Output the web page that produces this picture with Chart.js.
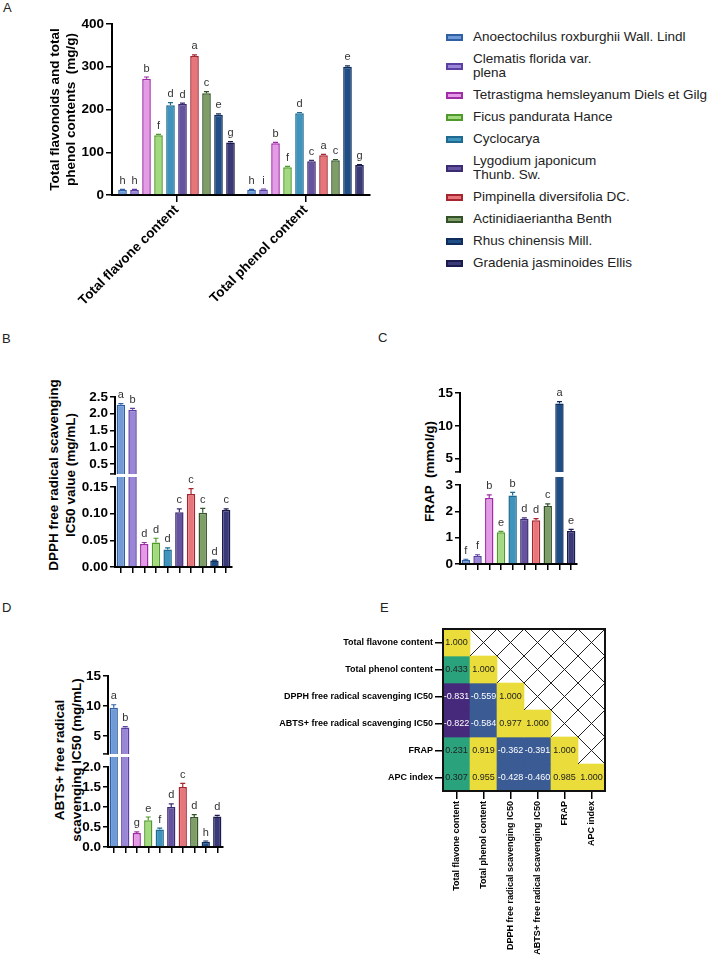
<!DOCTYPE html>
<html>
<head>
<meta charset="utf-8">
<script src="https://cdn.jsdelivr.net/npm/chart.js@4.4.1/dist/chart.umd.min.js"></script>
<style>
  body { margin: 0; background: #fff; width: 709px; height: 959px; position: relative; overflow: hidden;
         font-family: "Liberation Sans", Arial, Helvetica, sans-serif; }
  .lab { position: absolute; font-size: 13px; color: #222; }
  .ytitle { position: absolute; font-weight: bold; font-size: 13.5px; line-height: 17px; text-align: center;
            white-space: pre; transform: rotate(-90deg); color: #000; }
  #legend { position: absolute; left: 446px; top: 30px; font-size: 13.5px; color: #222; }
  #legend .item { display: flex; align-items: center; margin-bottom: 8px; }
  #legend .box { width: 13px; height: 3px; border: 2px solid; margin-right: 10px; flex: none; }
  #legend .txt { line-height: 14px; white-space: pre-line; }
</style>
</head>
<body>
<div class="lab" style="left:3px;top:0px">A</div>
<div class="lab" style="left:2px;top:331px">B</div>
<div class="lab" style="left:378px;top:330px">C</div>
<div class="lab" style="left:2px;top:600px">D</div>
<div class="lab" style="left:380px;top:600px">E</div>
<div class="ytitle" style="left:-58px;top:458px;width:240px;height:34px">DPPH free radical scavenging
IC50 value (mg/mL)</div>
<div class="ytitle" style="left:329px;top:463px;width:200px;height:17px">FRAP  (mmol/g)</div>
<div class="ytitle" style="left:-52px;top:743px;width:240px;height:34px">ABTS+ free radical
scavenging IC50 (mg/mL)</div>
<div id="legend"></div>
<script>
// species (legend order)
const species = ['Anoectochilus roxburghii Wall. Lindl', 'Clematis florida var.\nplena',
  'Tetrastigma hemsleyanum Diels et Gilg', 'Ficus pandurata Hance', 'Cyclocarya',
  'Lygodium japonicum\nThunb. Sw.', 'Pimpinella diversifolia DC.', 'Actinidiaeriantha Benth',
  'Rhus chinensis Mill.', 'Gradenia jasminoides Ellis'];
const edgeColors = ['#2f5fa5', '#5b3fa3', '#a12ca8', '#4f9a2a', '#1e6a90',
  '#3b2b72', '#a72530', '#34522a', '#0e2d5c', '#1c1b4e'];
const fillColors = ['#6f9ad6', '#9a86d6', '#e39be6', '#a3d97f', '#3f94bd',
  '#6553a0', '#e7767b', '#7f9e67', '#1f4d85', '#3b3a78'];

// A: total flavone / phenol (mg/g)
const contentGroups = ['Total flavone content', 'Total phenol content'];
const flavone = [12, 12, 272, 140, 210, 213, 325, 238, 188, 123];
const flavoneErr = [1, 1, 4, 2, 6, 2, 3, 4, 2, 2];
const flavoneSig = ['h', 'h', 'b', 'f', 'd', 'd', 'a', 'c', 'e', 'g'];
const phenol = [12, 13, 121, 65, 191, 79, 93, 81, 300, 70];
const phenolErr = [1, 1, 2, 2, 2, 2, 2, 2, 2, 1];
const phenolSig = ['h', 'i', 'b', 'f', 'd', 'c', 'a', 'c', 'e', 'g'];
const aTicks = [0, 100, 200, 300, 400];

// B: DPPH IC50 (mg/mL)
const dpph = [2.27, 2.12, 0.043, 0.046, 0.033, 0.103, 0.137, 0.102, 0.012, 0.107];
const dpphErr = [0.03, 0.04, 0.003, 0.008, 0.003, 0.006, 0.01, 0.008, 0.001, 0.002];
const dpphSig = ['a', 'b', 'd', 'd', 'd', 'c', 'c', 'c', 'd', 'c'];
const dpphTicksHigh = [0.5, 1.0, 1.5, 2.0, 2.5];
const dpphTicksLow = [0, 0.05, 0.10, 0.15];

// C: FRAP (mmol/g)
const frap = [0.15, 0.3, 2.5, 1.2, 2.6, 1.72, 1.66, 2.2, 13.4, 1.25];
const frapErr = [0.03, 0.05, 0.12, 0.04, 0.12, 0.03, 0.06, 0.08, 0.3, 0.06];
const frapSig = ['f', 'f', 'b', 'e', 'b', 'd', 'd', 'c', 'a', 'e'];
const frapTicksHigh = [5, 10, 15];
const frapTicksLow = [0, 1, 2, 3];

// D: ABTS+ IC50 (mg/mL)
const abts = [9.7, 6.4, 0.35, 0.67, 0.44, 1.0, 1.5, 0.75, 0.13, 0.76];
const abtsErr = [0.5, 0.15, 0.03, 0.08, 0.03, 0.08, 0.09, 0.06, 0.02, 0.03];
const abtsSig = ['a', 'b', 'g', 'e', 'f', 'd', 'c', 'd', 'h', 'd'];
const abtsTicksHigh = [5, 10, 15];
const abtsTicksLow = [0, 0.5, 1.0, 1.5, 2.0];

// E: correlation matrix (lower triangle, by row)
const indices = ['Total flavone content', 'Total phenol content', 'DPPH free radical scavenging IC50',
  'ABTS+ free radical scavenging IC50', 'FRAP', 'APC index'];
const rFlavone = [1.000];
const rPhenol = [0.433, 1.000];
const rDPPH = [-0.831, -0.559, 1.000];
const rABTS = [-0.822, -0.584, 0.977, 1.000];
const rFRAP = [0.231, 0.919, -0.362, -0.391, 1.000];
const rAPC = [0.307, 0.955, -0.428, -0.460, 0.985, 1.000];
const corrRows = [rFlavone, rPhenol, rDPPH, rABTS, rFRAP, rAPC];

Chart.defaults.font.family = '"Liberation Sans", Arial, Helvetica, sans-serif';
Chart.defaults.color = '#000';
Chart.defaults.animation = false;
Chart.defaults.plugins.legend.display = false;
Chart.defaults.plugins.tooltip.enabled = false;

const BOLD = {size: 13.5, weight: 'bold'};

function place(left, top, w, h) {
  const c = document.createElement('canvas');
  c.width = w; c.height = h;
  c.style.cssText = `position:absolute;left:${left}px;top:${top}px;width:${w}px;height:${h}px`;
  document.body.appendChild(c);
  return c;
}

// error bars + significance letters
const marks = {
  id: 'marks',
  afterDatasetsDraw(chart, args, opts) {
    if (!opts.sets) return;
    const ctx = chart.ctx, y = chart.scales.y;
    ctx.save();
    opts.sets.forEach((s, di) => {
      const ds = chart.data.datasets[di];
      chart.getDatasetMeta(di).data.forEach((bar, i) => {
        const v = ds.data[i];
        if (v == null || v > y.max) return;
        const top = y.getPixelForValue(v + s.err[i]);
        ctx.strokeStyle = Array.isArray(ds.borderColor) ? ds.borderColor[i] : ds.borderColor;
        ctx.lineWidth = 1.2;
        ctx.beginPath();
        ctx.moveTo(bar.x, bar.y); ctx.lineTo(bar.x, top);
        ctx.moveTo(bar.x - 2.5, top); ctx.lineTo(bar.x + 2.5, top);
        ctx.stroke();
        ctx.fillStyle = '#333';
        ctx.font = '11px "Liberation Sans", Arial, sans-serif';
        ctx.textAlign = 'center';
        ctx.textBaseline = 'bottom';
        ctx.fillText(s.sig[i], bar.x, top - 3);
      });
    });
    ctx.restore();
  }
};

// broken-axis bits: partial axis line and break tick
const axisBits = {
  id: 'axisBits',
  afterDraw(chart, args, opts) {
    const {ctx, chartArea: a} = chart, y = chart.scales.y;
    ctx.save();
    ctx.strokeStyle = '#000';
    if (opts.lineTo != null) {
      ctx.lineWidth = 2;
      ctx.beginPath();
      ctx.moveTo(a.left, a.bottom + 1);
      ctx.lineTo(a.left, y.getPixelForValue(opts.lineTo) - 1);
      ctx.stroke();
    }
    if (opts.breakMark) {
      ctx.lineWidth = 1.5;
      ctx.beginPath();
      ctx.moveTo(a.left - 5, a.bottom);
      ctx.lineTo(a.left + 1, a.bottom);
      ctx.stroke();
    }
    ctx.restore();
  }
};

const tickGrid = len => ({drawOnChartArea: false, tickLength: len, color: '#000', lineWidth: 1.5});

// ---- panel A ----
new Chart(place(0, 0, 440, 310), {
  type: 'bar',
  data: {
    labels: contentGroups,
    datasets: species.map((name, k) => ({
      label: name,
      data: [flavone[k], phenol[k]],
      backgroundColor: fillColors[k], borderColor: edgeColors[k], borderWidth: 1.5,
      barPercentage: 0.72, categoryPercentage: 0.93
    }))
  },
  options: {
    responsive: false,
    layout: {padding: {left: 47, top: 24, right: 70, bottom: 0}},
    scales: {
      x: {
        afterFit: s => { s.height = 115; },
        ticks: {font: BOLD, minRotation: 45, maxRotation: 45, padding: 0},
        grid: Object.assign(tickGrid(7), {offset: false}),
        border: {color: '#000', width: 2}
      },
      y: {
        min: 0, max: 400,
        afterBuildTicks: s => { s.ticks = aTicks.map(v => ({value: v})); },
        afterFit: s => { s.width = 65; },
        title: {display: true, text: ['Total flavonoids and total', 'phenol contents  (mg/g)'], font: BOLD, padding: 0},
        ticks: {font: BOLD, padding: 2},
        grid: tickGrid(6),
        border: {color: '#000', width: 2}
      }
    },
    plugins: {
      marks: {sets: species.map((_, k) => ({err: [flavoneErr[k], phenolErr[k]], sig: [flavoneSig[k], phenolSig[k]]}))}
    }
  },
  plugins: [marks]
});

// legend for A
const legend = document.getElementById('legend');
species.forEach((name, k) => {
  const item = document.createElement('div');
  item.className = 'item';
  item.innerHTML = `<span class="box" style="border-color:${edgeColors[k]};background:${fillColors[k]}"></span><span class="txt"></span>`;
  item.querySelector('.txt').textContent = name;
  legend.appendChild(item);
});

// ---- broken-axis panels B, C, D ----
function brokenPanel(p) {
  const yw = 50, pr = 8, xh = 22;
  const w = yw + (p.right - p.axisX) + pr;
  const look = {backgroundColor: fillColors, borderColor: edgeColors, borderWidth: 1.5,
    barPercentage: 0.72, categoryPercentage: 1};
  const yScale = (min, max, ticks, fmt, border) => ({
    min, max,
    afterBuildTicks: s => { s.ticks = ticks.map(v => ({value: v})); },
    afterFit: s => { s.width = yw; },
    ticks: {font: BOLD, padding: 2, callback: v => fmt(v)},
    grid: tickGrid(5),
    border: {display: border, color: '#000', width: 2}
  });
  const sets = [{err: p.errs, sig: p.sig}];

  new Chart(place(p.axisX - yw, p.upTop - 12, w, 12 + p.upBot - p.upTop + 10), {
    type: 'bar',
    data: {labels: species, datasets: [Object.assign({data: p.values.map(v => v > p.upMin ? v : null)}, look)]},
    options: {
      responsive: false,
      layout: {padding: {top: 12, bottom: 10, right: pr, left: 0}},
      scales: {x: {display: false}, y: yScale(p.upMin, p.upMax, p.upTicks, p.fmtUp, true)},
      plugins: {marks: {sets}, axisBits: {breakMark: true}}
    },
    plugins: [marks, axisBits]
  });

  new Chart(place(p.axisX - yw, p.loTop - 12, w, 12 + p.loBot - p.loTop + xh), {
    type: 'bar',
    data: {labels: species, datasets: [Object.assign({data: p.values, clip: 0}, look)]},
    options: {
      responsive: false,
      layout: {padding: {top: 12, bottom: 0, right: pr, left: 0}},
      scales: {
        x: {
          afterFit: s => { s.height = xh; },
          ticks: {callback: () => ''},
          grid: Object.assign(tickGrid(6), {offset: false}),
          border: {color: '#000', width: 2}
        },
        y: yScale(0, p.loMax, p.loTicks, p.fmtLo, false)
      },
      plugins: {marks: {sets}, axisBits: {lineTo: p.loTicks[p.loTicks.length - 1]}}
    },
    plugins: [marks, axisBits]
  });
}

brokenPanel({axisX: 115, right: 232, upTop: 397, upBot: 474, loTop: 477, loBot: 567,
  upMin: 0.2, upMax: 2.5, loMax: 0.169, upTicks: dpphTicksHigh, loTicks: dpphTicksLow,
  fmtUp: v => v.toFixed(1), fmtLo: v => v.toFixed(2), values: dpph, errs: dpphErr, sig: dpphSig});

brokenPanel({axisX: 460, right: 577, upTop: 393, upBot: 472, loTop: 477, loBot: 564,
  upMin: 3, upMax: 15, loMax: 3.3, upTicks: frapTicksHigh, loTicks: frapTicksLow,
  fmtUp: v => String(v), fmtLo: v => String(v), values: frap, errs: frapErr, sig: frapSig});

brokenPanel({axisX: 108, right: 223, upTop: 676, upBot: 754, loTop: 757, loBot: 847,
  upMin: 2, upMax: 15, loMax: 2.25, upTicks: abtsTicksHigh, loTicks: abtsTicksLow,
  fmtUp: v => String(v), fmtLo: v => v.toFixed(1), values: abts, errs: abtsErr, sig: abtsSig});

// ---- panel E: correlation heatmap ----
function cellColor(v) {
  if (v > 0.6) return '#eadc3a';
  if (v > 0) return '#2aa27c';
  if (v > -0.6) return '#3a5b94';
  return '#46297a';
}

const matrixDeco = {
  id: 'matrixDeco',
  afterDatasetsDraw(chart) {
    const {ctx, chartArea: a, scales: {x, y}} = chart;
    const cw = (a.right - a.left) / indices.length;
    ctx.save();
    ctx.font = '9px "Liberation Sans", Arial, sans-serif';
    ctx.textAlign = 'center';
    ctx.textBaseline = 'middle';
    corrRows.forEach((row, r) => {
      const meta = chart.getDatasetMeta(r);
      row.forEach((v, c) => {
        const el = meta.data[c];
        ctx.fillStyle = v > 0 ? '#222' : '#fff';
        ctx.fillText(v.toFixed(3), el.x, (el.y + el.base) / 2);
      });
    });
    ctx.strokeStyle = '#222';
    ctx.lineWidth = 1;
    ctx.beginPath();
    indices.forEach((_, r) => indices.forEach((_, c) => {
      if (c <= r) return;
      const x0 = x.getPixelForValue(c) - cw / 2, x1 = x0 + cw;
      const y0 = y.getPixelForValue(r), y1 = y.getPixelForValue(r + 1);
      ctx.moveTo(x0, y0); ctx.lineTo(x1, y1);
      ctx.moveTo(x1, y0); ctx.lineTo(x0, y1);
    }));
    ctx.stroke();
    ctx.lineWidth = 2;
    ctx.strokeStyle = '#111';
    ctx.strokeRect(a.left, a.top, a.right - a.left, a.bottom - a.top);
    ctx.restore();
  }
};

const SMALLBOLD = {size: 9, weight: 'bold'};
new Chart(place(270, 617, 345, 342), {
  type: 'bar',
  data: {
    labels: indices,
    datasets: corrRows.map((row, r) => ({
      data: indices.map((_, c) => c <= r ? [r, r + 1] : null),
      backgroundColor: indices.map((_, c) => c <= r ? cellColor(row[c]) : 'rgba(0,0,0,0)'),
      grouped: false, barPercentage: 1, categoryPercentage: 1, borderWidth: 0
    }))
  },
  options: {
    responsive: false,
    layout: {padding: {top: 12, right: 10, left: 0, bottom: 0}},
    scales: {
      x: {
        afterFit: s => { s.height = 168; },
        ticks: {font: SMALLBOLD, minRotation: 90, maxRotation: 90, padding: 2, autoSkip: false},
        grid: Object.assign(tickGrid(8), {offset: false}),
        border: {display: false}
      },
      y: {
        type: 'linear', min: 0, max: 6, reverse: true,
        afterBuildTicks: s => { s.ticks = indices.map((_, i) => ({value: i + 0.5})); },
        afterFit: s => { s.width = 173; },
        ticks: {font: SMALLBOLD, padding: 2, callback: (v, i) => indices[i]},
        grid: tickGrid(8),
        border: {display: false}
      }
    }
  },
  plugins: [matrixDeco]
});
</script>
</body>
</html>
